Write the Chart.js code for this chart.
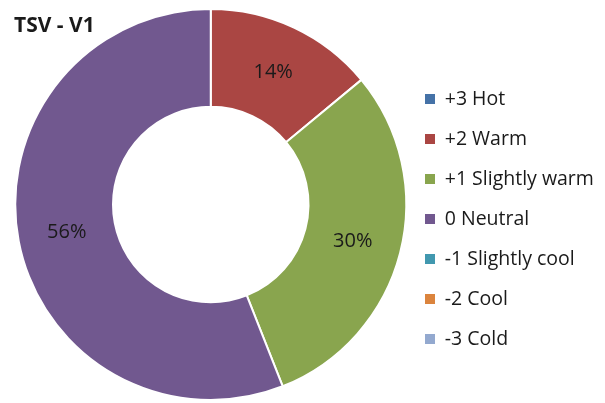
<!DOCTYPE html>
<html><head><meta charset="utf-8">
<script src="https://cdn.jsdelivr.net/npm/chart.js@4"></script>
<style>html,body{margin:0;padding:0;background:#fff}</style>
</head><body>
<canvas id="c" width="605" height="403"></canvas>
<script>
const chartTitle = 'TSV - V1';
const categories = ['+3 Hot','+2 Warm','+1 Slightly warm','0 Neutral','-1 Slightly cool','-2 Cool','-3 Cold'];
const shares = [0, 14, 30, 56, 0, 0, 0];
const sliceColors = ['#4572A7','#AA4643','#89A54E','#71588F','#4198AF','#DB843D','#93A9CF'];

const FONT = '"Open Sans"';
const legendFontSize = 19.5;
const legendPad = 20.5;
const legendBox = 10;

// legend width (Chart.js adds 10px to vertical legends), so the legend starts where the doughnut area ends
const mctx = document.createElement('canvas').getContext('2d');
mctx.font = legendFontSize + 'px ' + FONT;
const maxText = Math.max(...categories.map(t => mctx.measureText(t).width));
const legendWidth = legendPad + legendBox + legendFontSize / 2 + maxText + 10;
const legendLeft = 404.5;
const padRight = 605 - legendLeft - legendWidth;

const titlePlugin = {
  id: 'cornerTitle',
  afterDraw(chart) {
    const ctx = chart.ctx;
    ctx.save();
    ctx.font = 'bold 21px ' + FONT;
    ctx.fillStyle = '#1a1a1a';
    ctx.textAlign = 'left';
    ctx.textBaseline = 'alphabetic';
    ctx.fillText(chartTitle, 14, 32);
    ctx.restore();
  }
};

const sliceLabels = {
  id: 'sliceLabels',
  afterDatasetsDraw(chart) {
    const ctx = chart.ctx;
    const meta = chart.getDatasetMeta(0);
    const data = chart.data.datasets[0].data;
    ctx.save();
    ctx.font = '20px ' + FONT;
    ctx.fillStyle = '#1a1a1a';
    ctx.textAlign = 'center';
    ctx.textBaseline = 'middle';
    meta.data.forEach((arc, i) => {
      if (!data[i]) return;
      const p = arc.getCenterPoint();
      ctx.fillText(data[i] + '%', p.x, p.y);
    });
    ctx.restore();
  }
};

new Chart(document.getElementById('c'), {
  type: 'doughnut',
  data: {
    labels: categories,
    datasets: [{
      data: shares,
      backgroundColor: sliceColors,
      borderColor: '#ffffff',
      borderWidth: 2,
      radius: 195.5,
      clip: false
    }]
  },
  options: {
    responsive: false,
    animation: false,
    cutout: '50%',
    layout: { padding: { left: 17, top: 10, right: padRight, bottom: 4 } },
    plugins: {
      tooltip: { enabled: false },
      legend: {
        position: 'right',
        align: 'center',
        title: { display: true, text: '', font: { size: 10 }, padding: { top: 0, bottom: 17 } },
        labels: {
          boxWidth: legendBox,
          boxHeight: legendBox,
          padding: legendPad,
          color: '#1a1a1a',
          font: { family: FONT, size: legendFontSize },
          generateLabels(chart) {
            const items = Chart.overrides.doughnut.plugins.legend.labels.generateLabels(chart);
            items.forEach(it => { it.lineWidth = 0; it.strokeStyle = it.fillStyle; });
            return items;
          }
        }
      }
    }
  },
  plugins: [sliceLabels, titlePlugin]
});
</script>
</body></html>
